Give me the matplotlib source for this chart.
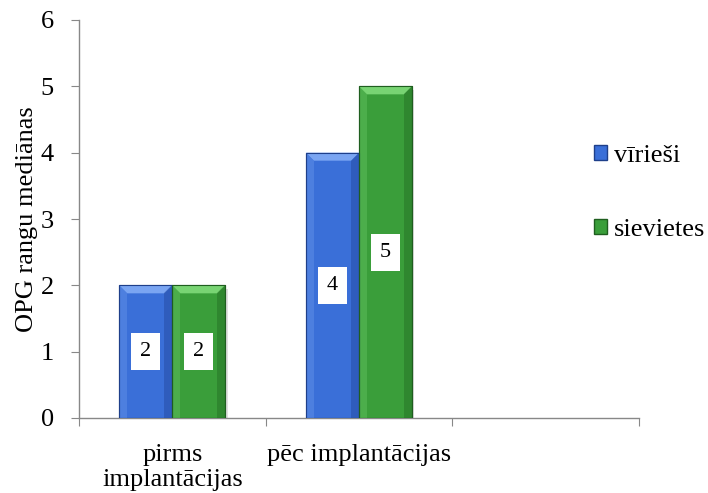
import matplotlib
matplotlib.use("Agg")
import matplotlib.pyplot as plt
from matplotlib.patches import Polygon, Rectangle
import numpy as np

categories = ["pirms\nimplantācijas", "pēc implantācijas", ""]
series_names = ["vīrieši", "sievietes"]
viriesi = [2, 4]
sievietes = [2, 5]
yticks = [0, 1, 2, 3, 4, 5, 6]

colors = ["#3a6fd8", "#3a9e3a"]
light = ["#7aa5f2", "#78d473"]
dark = ["#23479a", "#236b23"]
edge = ["#1e3f8a", "#1f5e1f"]

plt.rcParams["font.family"] = ["Liberation Serif", "DejaVu Serif"]

fig = plt.figure(figsize=(7.08, 4.93), dpi=100)
ax = fig.add_axes([79/708, 75/493, 560/708, 398/493])

n_cat = 3
ax.set_xlim(0, n_cat)
ax.set_ylim(0, 6)
w = 0.284
data = [viriesi, sievietes]
bx = 8 / 186.7
by = 8 / 66.3

for s, vals in enumerate(data):
    xs = np.arange(len(vals)) + 0.5 + (s - 0.5) * w
    bars = ax.bar(xs, vals, width=w, color=colors[s], edgecolor=edge[s], linewidth=0.8, zorder=3)
    for b, v in zip(bars, vals):
        x0, x1 = b.get_x(), b.get_x() + b.get_width()
        h = b.get_height()
        # shadow
        ax.add_patch(Rectangle((x1, 0), 0.012, h - 0.05, color="#000000", alpha=0.12, zorder=2, lw=0))
        # top bevel
        ax.add_patch(Polygon([(x0, h), (x1, h), (x1 - bx, h - by), (x0 + bx, h - by)],
                             closed=True, facecolor=light[s], edgecolor="none", zorder=4))
        # right bevel
        ax.add_patch(Polygon([(x1, h), (x1, 0), (x1 - bx, 0), (x1 - bx, h - by)],
                             closed=True, facecolor=dark[s], edgecolor="none", alpha=0.45, zorder=4))
        # left bevel
        ax.add_patch(Polygon([(x0, h), (x0, 0), (x0 + bx, 0), (x0 + bx, h - by)],
                             closed=True, facecolor=light[s], edgecolor="none", alpha=0.3, zorder=4))
        ax.add_patch(Rectangle((x0, 0), x1 - x0, h, facecolor="none", edgecolor=edge[s], lw=0.8, zorder=5))
        ax.text((x0 + x1) / 2, h / 2, str(v), ha="center", va="center", fontsize=16, zorder=6,
                bbox=dict(boxstyle="square,pad=0.4", facecolor="white", edgecolor="none"))

ax.set_yticks(yticks)
ax.set_yticklabels([str(t) for t in yticks], fontsize=19)
ax.set_xticks(range(n_cat + 1))
ax.set_xticklabels([])
ax.set_xticks(np.arange(n_cat) + 0.5, minor=True)
ax.set_xticklabels(categories, minor=True, fontsize=19, linespacing=1.15)
ax.tick_params(axis="x", which="minor", length=0, pad=19)
ax.tick_params(axis="x", which="major", length=6, color="#888888", direction="out")
ax.tick_params(axis="y", length=6, color="#888888", direction="out", pad=12)

for sp in ["top", "right"]:
    ax.spines[sp].set_visible(False)
for sp in ["left", "bottom"]:
    ax.spines[sp].set_color("#888888")
    ax.spines[sp].set_linewidth(1.0)

ax.set_ylabel("OPG rangu mediānas", fontsize=19, labelpad=2)

# legend
handles = [Rectangle((0, 0), 1, 1, facecolor=colors[i], edgecolor=edge[i]) for i in range(2)]
leg = fig.legend(handles, series_names, loc="center left", bbox_to_anchor=(594/708, 1 - 193/493),
                 frameon=False, fontsize=19, handlelength=0.5, handleheight=0.5,
                 handletextpad=0.25, labelspacing=1.95, borderpad=0, borderaxespad=0)

fig.savefig("out.png", dpi=100)
